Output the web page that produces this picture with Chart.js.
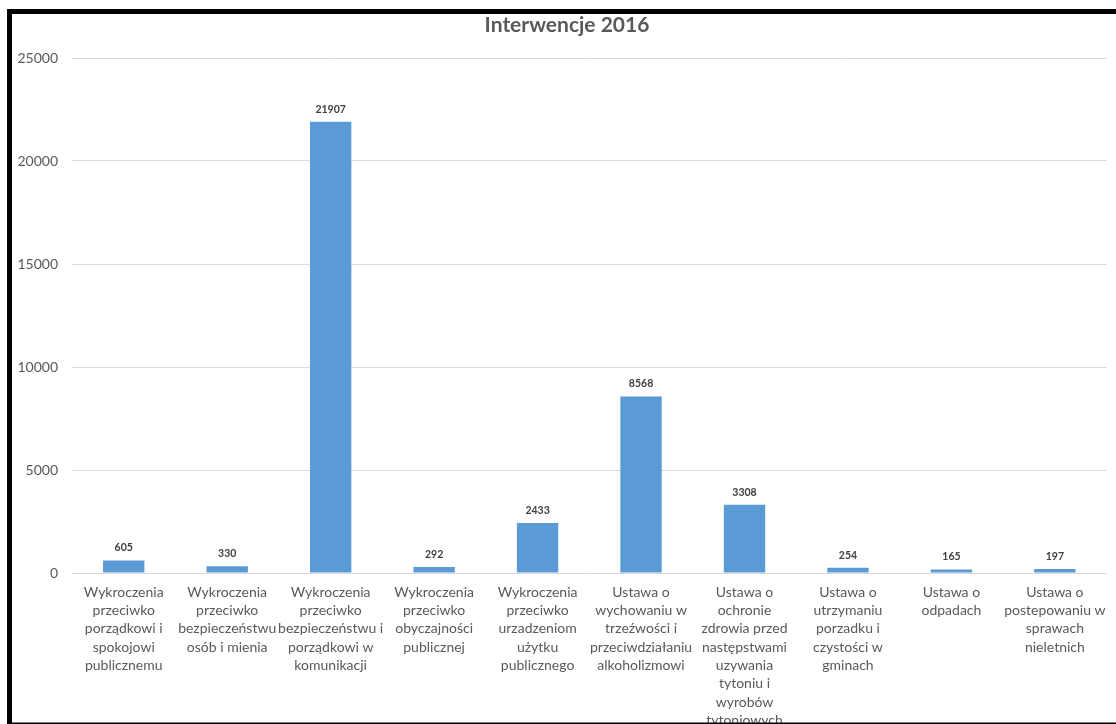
<!DOCTYPE html>
<html>
<head>
<meta charset="utf-8">
<script src="https://cdn.jsdelivr.net/npm/chart.js@4/dist/chart.umd.min.js"></script>
<style>
  html, body { margin: 0; padding: 0; background: #fff; }
  #wrap { position: relative; width: 1116px; height: 724px; }
</style>
</head>
<body>
<div id="wrap"><canvas id="c" width="1116" height="724"></canvas></div>
<script>
const chartTitle = "Interwencje 2016";
const categories = [
  ["Wykroczenia", "przeciwko", "porządkowi i", "spokojowi", "publicznemu"],
  ["Wykroczenia", "przeciwko", "bezpieczeństwu", "osób i mienia"],
  ["Wykroczenia", "przeciwko", "bezpieczeństwu i", "porządkowi w", "komunikacji"],
  ["Wykroczenia", "przeciwko", "obyczajności", "publicznej"],
  ["Wykroczenia", "przeciwko", "urzadzeniom", "użytku", "publicznego"],
  ["Ustawa o", "wychowaniu w", "trzeźwości i", "przeciwdziałaniu", "alkoholizmowi"],
  ["Ustawa o", "ochronie", "zdrowia przed", "następstwami", "uzywania", "tytoniu i", "wyrobów", "tytoniowych"],
  ["Ustawa o", "utrzymaniu", "porzadku i", "czystości w", "gminach"],
  ["Ustawa o", "odpadach"],
  ["Ustawa o", "postepowaniu w", "sprawach", "nieletnich"]
];
const values = [605, 330, 21907, 292, 2433, 8568, 3308, 254, 165, 197];
const yTicks = [0, 5000, 10000, 15000, 20000, 25000];

const FONT = "Lato, 'Open Sans', sans-serif";

const decorPlugin = {
  id: 'decor',
  afterDatasetsDraw(chart) {
    const ctx = chart.ctx;
    const meta = chart.getDatasetMeta(0);
    ctx.save();
    ctx.font = "bold 10.5px " + FONT;
    ctx.fillStyle = '#404040';
    ctx.textAlign = 'center';
    ctx.textBaseline = 'middle';
    meta.data.forEach((bar, i) => {
      ctx.fillText(String(values[i]), bar.x, bar.y - 12.5);
    });
    ctx.restore();
  },
  afterDraw(chart) {
    const ctx = chart.ctx;
    ctx.save();
    ctx.font = "bold 21px " + FONT;
    ctx.fillStyle = '#595959';
    ctx.textAlign = 'center';
    ctx.textBaseline = 'middle';
    ctx.fillText(chartTitle, 567, 25);
    ctx.strokeStyle = '#000';
    ctx.lineWidth = 5;
    ctx.strokeRect(9.5, 11.5, 1130, 713.5);
    ctx.restore();
  }
};

new Chart(document.getElementById('c'), {
  type: 'bar',
  data: {
    labels: categories,
    datasets: [{
      data: values,
      backgroundColor: '#5b9bd5',
      borderWidth: 0,
      categoryPercentage: 1.0,
      barPercentage: 0.4
    }]
  },
  options: {
    responsive: false,
    animation: false,
    layout: { padding: { left: 0, top: 58, right: 9, bottom: 0 } },
    plugins: {
      legend: { display: false },
      title: { display: false },
      tooltip: { enabled: false }
    },
    scales: {
      x: {
        grid: { display: false, drawTicks: false },
        border: { display: false },
        ticks: {
          color: '#595959',
          font: { family: FONT, size: 14, lineHeight: 1.31 },
          maxRotation: 0,
          minRotation: 0,
          autoSkip: false,
          padding: 10
        },
        afterFit(scale) { scale.height = 151; }
      },
      y: {
        min: 0,
        max: 25000,
        afterBuildTicks(scale) { scale.ticks = yTicks.map(v => ({ value: v })); },
        grid: { color: '#d9d9d9', lineWidth: 1, drawTicks: false },
        border: { display: false },
        ticks: {
          color: '#595959',
          font: { family: FONT, size: 14 },
          padding: 14,
          callback: (v) => String(v)
        },
        afterFit(scale) { scale.width = 72; }
      }
    }
  },
  plugins: [decorPlugin]
});
</script>
</body>
</html>
